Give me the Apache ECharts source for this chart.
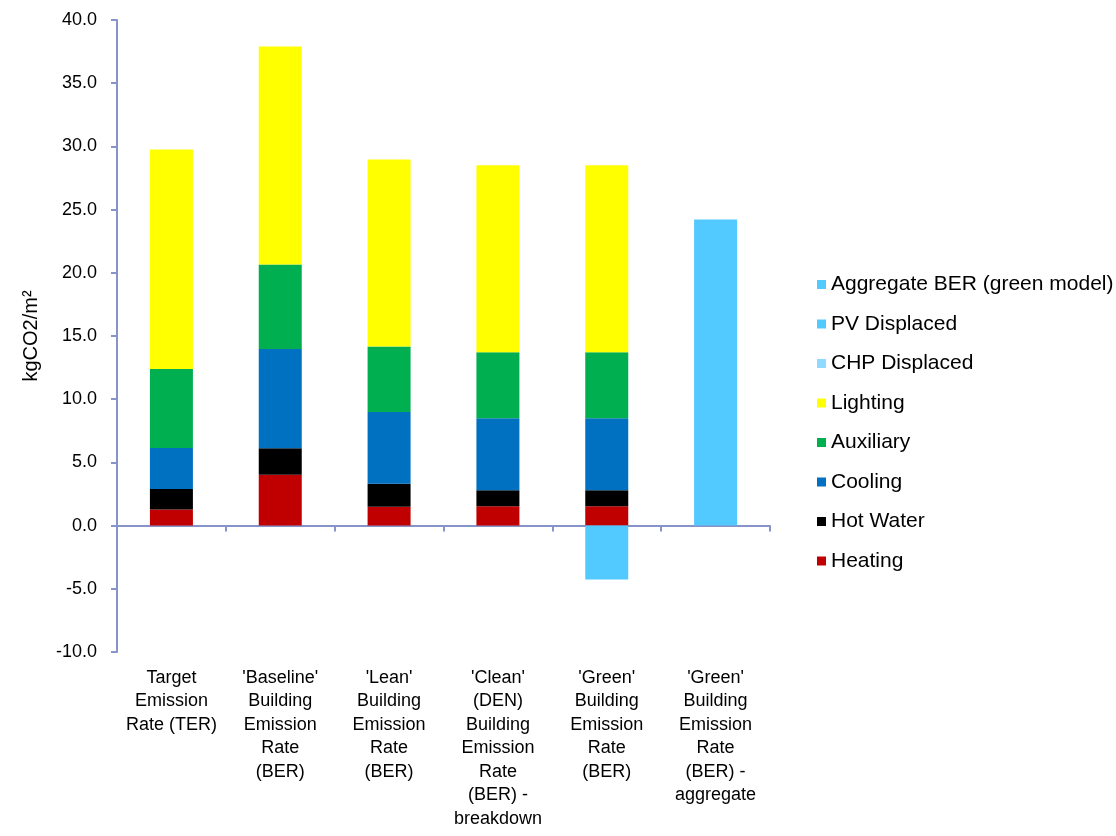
<!DOCTYPE html>
<html>
<head>
<meta charset="utf-8">
<script src="https://cdn.jsdelivr.net/npm/echarts@6/dist/echarts.min.js"></script>
<style>
  html, body { margin: 0; padding: 0; background: #fff; }
  #chart { width: 1116px; height: 836px; }
</style>
</head>
<body>
<div id="chart"></div>
<script>
const categories = [
  "Target\nEmission\nRate (TER)",
  "'Baseline'\nBuilding\nEmission\nRate\n(BER)",
  "'Lean'\nBuilding\nEmission\nRate\n(BER)",
  "'Clean'\n(DEN)\nBuilding\nEmission\nRate\n(BER) -\nbreakdown",
  "'Green'\nBuilding\nEmission\nRate\n(BER)",
  "'Green'\nBuilding\nEmission\nRate\n(BER) -\naggregate",
];

// values in kgCO2/m2, "-" = no bar
const heating = [1.27, 4.03, 1.5, 1.53, 1.53, "-"];
const hotWater = [1.63, 2.09, 1.82, 1.27, 1.27, "-"];
const cooling = [3.24, 7.86, 5.67, 5.69, 5.69, "-"];
const auxiliary = [6.25, 6.67, 5.17, 5.22, 5.22, "-"];
const lighting = [17.36, 17.25, 14.8, 14.8, 14.8, "-"];
const chpDisplaced = ["-", "-", "-", "-", "-", "-"];
const pvDisplaced = ["-", "-", "-", "-", -4.27, "-"];
const aggregateBer = ["-", "-", "-", "-", "-", 24.21];

const yTicks = { min: -10, max: 40, interval: 5 };

const seriesDefs = [
  { name: "Heating", data: heating, color: "#C00000" },
  { name: "Hot Water", data: hotWater, color: "#000000" },
  { name: "Cooling", data: cooling, color: "#0070C0" },
  { name: "Auxiliary", data: auxiliary, color: "#00B050" },
  { name: "Lighting", data: lighting, color: "#FFFF00" },
  { name: "CHP Displaced", data: chpDisplaced, color: "#8FDAFF" },
  { name: "PV Displaced", data: pvDisplaced, color: "#53CAFF" },
  { name: "Aggregate BER (green model)", data: aggregateBer, color: "#53CAFF" },
];

const axisColor = "#8793C9";
const font = "'Liberation Sans', Arial, sans-serif";

const chart = echarts.init(document.getElementById("chart"), null, { renderer: "canvas" });

chart.setOption({
  animation: false,
  grid: { left: 117, right: 346, top: 20, bottom: 184 },
  legend: {
    orient: "vertical",
    left: 812,
    top: 269,
    icon: "rect",
    itemWidth: 9,
    itemHeight: 9,
    itemGap: 18.5,
    selectedMode: false,
    textStyle: { fontFamily: font, fontSize: 21, color: "#000", lineHeight: 20 },
    data: seriesDefs.map((s) => s.name).reverse(),
  },
  xAxis: [
    {
      type: "category",
      data: categories,
      position: "bottom",
      axisLine: { show: false, onZero: false },
      axisTick: { show: false },
      axisLabel: {
        interval: 0,
        margin: 14,
        fontFamily: font,
        fontSize: 18,
        lineHeight: 23.5,
        color: "#000",
      },
    },
    {
      type: "category",
      data: categories,
      position: "bottom",
      axisLine: { show: true, onZero: true, lineStyle: { color: axisColor, width: 2 } },
      axisTick: { show: true, length: 6, lineStyle: { color: axisColor, width: 2 } },
      axisLabel: { show: false },
    },
  ],
  yAxis: {
    type: "value",
    min: yTicks.min,
    max: yTicks.max,
    interval: yTicks.interval,
    name: "kgCO2/m²",
    nameLocation: "middle",
    nameGap: 76,
    nameTextStyle: { fontFamily: font, fontSize: 20, color: "#000" },
    axisLine: { show: true, lineStyle: { color: axisColor, width: 2 } },
    axisTick: { show: true, length: 6, lineStyle: { color: axisColor, width: 2 } },
    splitLine: { show: false },
    axisLabel: {
      margin: 20,
      fontFamily: font,
      fontSize: 18,
      color: "#000",
      formatter: (v) => v.toFixed(1),
    },
  },
  series: seriesDefs.map((s) => ({
    type: "bar",
    name: s.name,
    data: s.data,
    stack: "total",
    xAxisIndex: 0,
    barWidth: 43,
    itemStyle: { color: s.color },
    emphasis: { disabled: true },
  })),
});
</script>
</body>
</html>
